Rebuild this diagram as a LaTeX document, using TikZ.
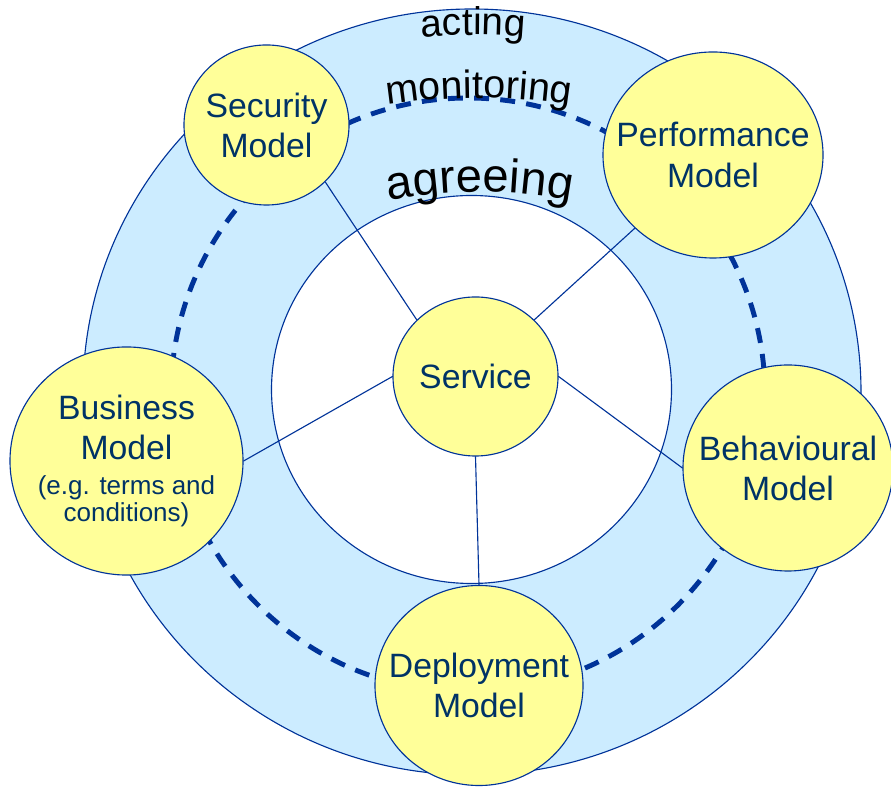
\documentclass[tikz,border=0pt]{standalone}
\usepackage{fontspec}
\setmainfont{Liberation Sans}
\usepackage{tikz}
\usetikzlibrary{shapes.geometric,decorations.text}

\definecolor{ringblue}{RGB}{204,236,255}
\definecolor{linenavy}{RGB}{0,51,153}
\definecolor{modelyellow}{RGB}{255,255,153}
\definecolor{textnavy}{RGB}{0,51,102}

\newcommand{\modelfont}{\fontsize{24}{28.5}\selectfont}
\newcommand{\notefont}{\fontsize{18.5}{20}\selectfont}

\begin{document}
\begin{tikzpicture}[
  x=0.025cm, y=0.025cm,
  line cap=round,
  line join=round,
  ringline/.style={draw=linenavy,line width=0.8pt},
  dashring/.style={linenavy,line width=3.5pt,line cap=butt,
    dash pattern=on 0.375cm off 0.28cm},
  model/.style={ellipse,draw=linenavy,line width=0.8pt,fill=modelyellow,
    text=textnavy,font=\modelfont,align=center,inner sep=-3cm},
  connector/.style={linenavy,line width=0.8pt}
]
\path[use as bounding box] (0,0) rectangle (891,787);

% rings
\path[ringline,fill=ringblue] (472,395) ellipse[x radius=389,y radius=383];
\path[ringline,fill=white] (471.5,397.5) ellipse[x radius=200,y radius=194];
\draw[dashring] (468,392) circle[radius=297];

% words along the rings
\path[decorate,decoration={text along path,text align=center,
    text={|\fontsize{27.5}{30}\selectfont|acting}},shift={(473,152)}]
  (100:600) arc[start angle=100,end angle=80,radius=600];
\path[decorate,decoration={text along path,text align=center,
    text={|\fontsize{28}{30}\selectfont|monitoring}},shift={(479,89)}]
  (102:600) arc[start angle=102,end angle=78,radius=600];
\path[decorate,decoration={text along path,text align=center,
    text={|\fontsize{33.5}{36}\selectfont|agreeing}},shift={(480,95)}]
  (104:500) arc[start angle=104,end angle=76,radius=500];

% models
\node[model,minimum width=4.125cm,minimum height=3.975cm] (svc) at (475.5,410.5) {Service};
\node[model,minimum width=4.125cm,minimum height=4cm] (sec) at (266.5,662) {Security\\Model};
\node[model,minimum width=5.5cm,minimum height=5.15cm] (perf) at (713,632) {Performance\\Model};
\node[model,minimum width=5.825cm,minimum height=5.7cm] (bus) at (126.5,326)
  {Business\\Model\\[-3.7pt]{\notefont (e.g. terms and}\\[-8.6pt]{\notefont conditions)}};
\node[model,minimum width=5.25cm,minimum height=5.15cm] (beh) at (788,319) {Behavioural\\Model};
\node[model,minimum width=5.2cm,minimum height=5cm] (dep) at (479,101.5) {Deployment\\Model};

\draw[connector] (sec.south east) -- (svc.north west);
\draw[connector] (perf.south west) -- (svc.north east);
\draw[connector] (bus.east) -- (svc.west);
\draw[connector] (beh.west) -- (svc.east);
\draw[connector] (dep.north) -- (svc.south);
\end{tikzpicture}
\end{document}
